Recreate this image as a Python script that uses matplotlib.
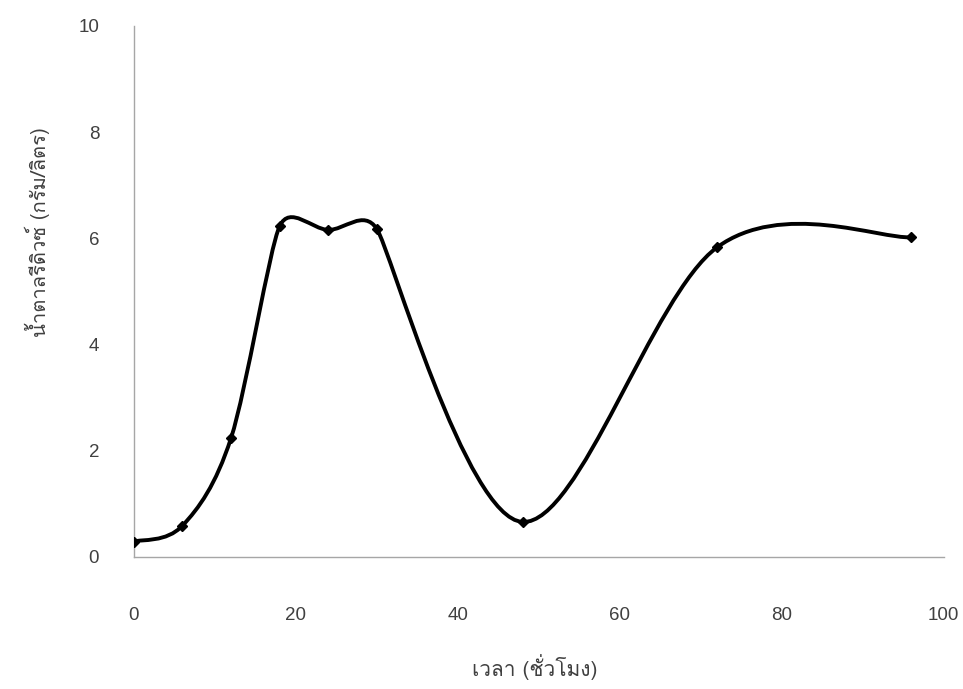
import numpy as np
import matplotlib
matplotlib.use('Agg')
import matplotlib.pyplot as plt
from matplotlib import font_manager
from matplotlib.ft2font import FT2Font
from matplotlib.path import Path
from matplotlib.patches import PathPatch

# เวลา (ชั่วโมง) และ น้ำตาลรีดิวซ์ (กรัม/ลิตร)
hours = [0, 6, 12, 18, 24, 30, 48, 72, 96]
sugar = [0.29, 0.59, 2.24, 6.23, 6.16, 6.18, 0.66, 5.83, 6.02]

x_ticks = [0, 20, 40, 60, 80, 100]
y_ticks = [0, 2, 4, 6, 8, 10]
x_label = 'เวลา (ชั่วโมง)'
y_label = 'น้ำตาลรีดิวซ์ (กรัม/ลิตร)'


def thai_family():
    """หาฟอนต์ที่มีอักษรไทย"""
    for f in font_manager.fontManager.ttflist:
        try:
            if 0x0E40 in FT2Font(f.fname).get_charmap():
                return f.name
        except Exception:
            pass
    return 'DejaVu Sans'


def smooth_path(ax, xs, ys):
    """เส้นโค้ง Bezier ผ่านทุกจุด แบบเส้นเรียบของ Excel
    (tangent = (P[i+1]-P[i-1])/6 แต่ไม่เกินครึ่งของช่วงที่สั้นกว่า วัดเป็นพิกเซล)"""
    pts = np.column_stack([xs, ys]).astype(float)
    pix = ax.transData.transform(pts)
    n = len(pts)
    tan = np.zeros_like(pts)
    for i in range(n):
        a, b = max(i - 1, 0), min(i + 1, n - 1)
        t = (pts[b] - pts[a]) / 6.0
        tp = np.hypot(*((pix[b] - pix[a]) / 6.0))
        segs = []
        if i > 0:
            segs.append(np.hypot(*(pix[i] - pix[i - 1])))
        if i < n - 1:
            segs.append(np.hypot(*(pix[i + 1] - pix[i])))
        lim = 0.5 * min(segs)
        if tp > lim and tp > 0:
            t = t * lim / tp
        tan[i] = t
    verts = [pts[0]]
    codes = [Path.MOVETO]
    for i in range(n - 1):
        verts += [pts[i] + tan[i], pts[i + 1] - tan[i + 1], pts[i + 1]]
        codes += [Path.CURVE4] * 3
    return Path(verts, codes)


thai = thai_family()
plt.rcParams['font.family'] = ['Liberation Sans', thai, 'DejaVu Sans']

fig = plt.figure(figsize=(9.63, 6.89), dpi=100)
ax = fig.add_axes([0.139, 0.1916, 0.841, 0.7707])

ax.set_xlim(0, 100)
ax.set_ylim(0, 10)
ax.set_xticks(x_ticks)
ax.set_yticks(y_ticks)

ax.add_patch(PathPatch(smooth_path(ax, hours, sugar), facecolor='none',
                       edgecolor='black', linewidth=2.8, zorder=3))
ax.plot(hours, sugar, linestyle='none', marker='D', markersize=5.5,
        color='black', zorder=4)

for side in ['top', 'right']:
    ax.spines[side].set_visible(False)
for side in ['left', 'bottom']:
    ax.spines[side].set_color('#a6a6a6')
    ax.spines[side].set_linewidth(1.0)

ax.tick_params(axis='both', length=0, labelsize=13.5, labelcolor='#404040')
ax.tick_params(axis='x', pad=36)
ax.tick_params(axis='y', pad=25)

ax.set_xlabel(x_label, fontsize=15, color='#404040', family=[thai, 'DejaVu Sans'])
ax.set_ylabel(y_label, fontsize=14.5, color='#404040', family=[thai, 'DejaVu Sans'])
ax.xaxis.set_label_coords(0.495, -0.182)
ax.yaxis.set_label_coords(-0.103, 0.612)

plt.savefig('out.png', dpi=100)
